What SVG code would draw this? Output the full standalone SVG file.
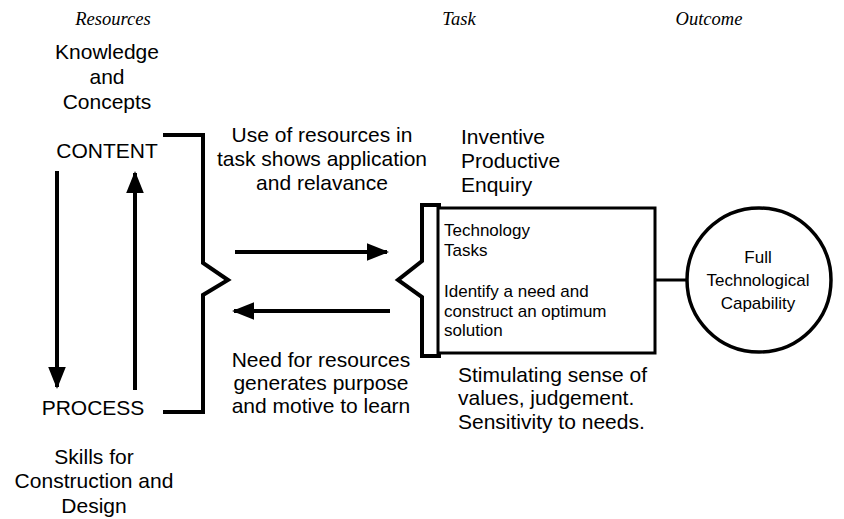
<svg xmlns="http://www.w3.org/2000/svg" width="844" height="519" viewBox="0 0 844 519">
<style>
.t{font-family:"Liberation Sans",Arial,sans-serif;font-size:21px;fill:#000}
.c{font-family:"Liberation Sans",Arial,sans-serif;font-size:17px;fill:#000}
.s{font-family:"Liberation Sans",Arial,sans-serif;font-size:17px;fill:#000}
.h{font-family:"Liberation Serif","Times New Roman",serif;font-style:italic;font-size:18.5px;fill:#000}
.ln{fill:none;stroke:#000;stroke-width:4}
.ar{fill:none;stroke:#000;stroke-width:4}
</style>
<defs>
<marker id="ah" markerWidth="5.5" markerHeight="4.4" refX="5" refY="2.2" orient="auto" markerUnits="strokeWidth">
<path d="M0,0 L5.5,2.2 L0,4.4 Z" fill="#000"/>
</marker>
</defs>
<g id="headers">
<text class="h" x="113" y="25" text-anchor="middle">Resources</text>
<text class="h" x="459" y="25" text-anchor="middle">Task</text>
<text class="h" x="709" y="25" text-anchor="middle">Outcome</text>
</g>
<g id="knowledge">
<text class="t" x="107" y="59" text-anchor="middle">Knowledge</text>
<text class="t" x="107" y="84" text-anchor="middle">and</text>
<text class="t" x="107" y="109" text-anchor="middle">Concepts</text>
</g>
<g id="content"><text class="t" x="107" y="158" text-anchor="middle">CONTENT</text></g>
<g id="process"><text class="t" x="93" y="415" text-anchor="middle">PROCESS</text></g>
<g id="skills">
<text class="t" x="94" y="464" text-anchor="middle">Skills for</text>
<text class="t" x="94" y="488" text-anchor="middle">Construction and</text>
<text class="t" x="94" y="513" text-anchor="middle">Design</text>
</g>
<g id="use-label">
<text class="t" x="322" y="142" text-anchor="middle">Use of resources in</text>
<text class="t" x="322" y="166" text-anchor="middle">task shows application</text>
<text class="t" x="322" y="190" text-anchor="middle">and relavance</text>
</g>
<g id="need-label">
<text class="t" x="321" y="367" text-anchor="middle">Need for resources</text>
<text class="t" x="321" y="390" text-anchor="middle">generates purpose</text>
<text class="t" x="321" y="413" text-anchor="middle">and motive to learn</text>
</g>
<g id="inventive">
<text class="t" x="461" y="144">Inventive</text>
<text class="t" x="461" y="168">Productive</text>
<text class="t" x="461" y="192">Enquiry</text>
</g>
<g id="task-box">
<rect x="438" y="208" width="217" height="145" fill="none" stroke="#000" stroke-width="3"/>
<text class="s" x="444" y="236">Technology</text>
<text class="s" x="444" y="256">Tasks</text>
<text class="s" x="444" y="297">Identify a need and</text>
<text class="s" x="444" y="316.5">construct an optimum</text>
<text class="s" x="444" y="336">solution</text>
</g>
<g id="stimulating">
<text class="t" x="458" y="382">Stimulating sense of</text>
<text class="t" x="458" y="405">values, judgement.</text>
<text class="t" x="458" y="429">Sensitivity to needs.</text>
</g>
<g id="outcome">
<circle cx="759" cy="280" r="72" fill="none" stroke="#000" stroke-width="3.5"/>
<text class="c" x="758" y="263" text-anchor="middle">Full</text>
<text class="c" x="758" y="286" text-anchor="middle">Technological</text>
<text class="c" x="758" y="309" text-anchor="middle">Capability</text>
</g>
<g id="connectors">
<path class="ln" d="M163,135 H203 V263 L228,280 L203,295 V412 H163"/>
<path class="ln" d="M441,205 H422 V261 L398,280 L422,297 V356 H441"/>
<line class="ar" x1="57" y1="171" x2="57" y2="387" marker-end="url(#ah)"/>
<line class="ar" x1="135" y1="390" x2="135" y2="173" marker-end="url(#ah)"/>
<line class="ar" x1="235" y1="252" x2="387" y2="252" marker-end="url(#ah)"/>
<line class="ar" x1="390" y1="311" x2="234" y2="311" marker-end="url(#ah)"/>
<line x1="655" y1="280" x2="687" y2="280" stroke="#000" stroke-width="3"/>
</g>
</svg>
